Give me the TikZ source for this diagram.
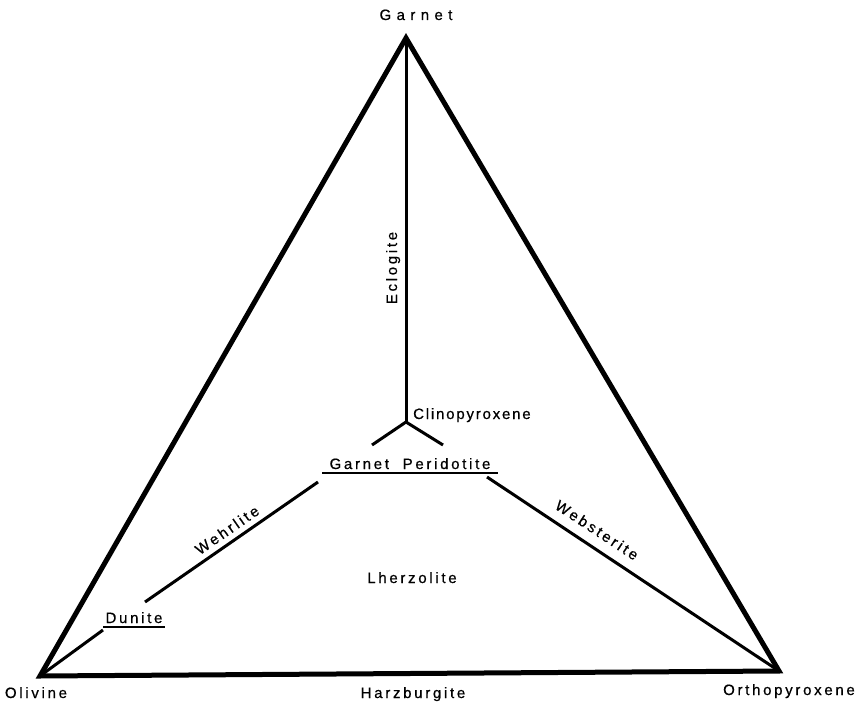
\documentclass[tikz,border=0pt]{standalone}
\usepackage{fontspec}
\setmainfont{Liberation Sans}[LetterSpace=18, FakeBold=0.6]
\usetikzlibrary{positioning}

\begin{document}
\begin{tikzpicture}[
  x=1pt, y=-1pt,
  font=\fontsize{15}{17}\selectfont,
  rim/.style={line width=5pt, line join=miter},
  tie/.style={line width=3pt},
  uline/.style={line width=2pt},
  lbl/.style={inner sep=0pt, anchor=base},
]
\useasboundingbox (0,0) rectangle (857,706);

% corners of the diagram
\coordinate (gt) at (406,38);
\coordinate (ol) at (40,676);
\coordinate (op) at (779,671);

\draw[rim] (gt) -- (ol) -- (op) -- cycle;

% centre tie lines
\coordinate (jn) at (406,422);
\coordinate (jl) at (372,445);
\coordinate (jr) at (443,445);
\draw[tie] (gt) -- (jn);
\draw[tie] (jl) -- (jn) -- (jr);

\node[lbl, font=\fontsize{15}{17}\selectfont\addfontfeatures{LetterSpace=36}] (garnet) at (416,20) {Garnet};
\node[lbl] (olivine) at (36,698) {Olivine};
\node[lbl] (opx) at (789,695) {Orthopyroxene};
\node[lbl] (harz) at (413,698) {Harzburgite};
\node[lbl] (lherz) at (412,583) {Lherzolite};
\node[lbl, rotate=90] (eclog) at (397,268) {Eclogite};
\node[lbl, anchor=base west, font=\fontsize{15}{17}\selectfont\addfontfeatures{LetterSpace=12}] (cpx) at (413,419) {Clinopyroxene};

\node[lbl, inner xsep=7pt, inner ysep=4pt] (gp) at (410,469) {Garnet\ \ Peridotite};
\draw[uline] (gp.south west) -- (gp.south east);

\node[lbl, inner xsep=2pt, inner ysep=4pt] (dun) at (134,623) {Dunite};
\draw[uline] (dun.south west) -- (dun.south east);

% side joins
\coordinate (wA) at (145,602);
\coordinate (wB) at (318,482);
\coordinate (wC) at (487,477);
\coordinate (dA) at (103,630);
\draw[tie] (wA) -- (wB);
\draw[tie] (wC) -- (op);
\draw[tie] (ol) -- (dA);

\node[rotate=34.7] (wehr) at (227,530) {Wehrlite};
\node[rotate=-33.3] (webs) at (597,530) {Websterite};

\end{tikzpicture}
\end{document}
